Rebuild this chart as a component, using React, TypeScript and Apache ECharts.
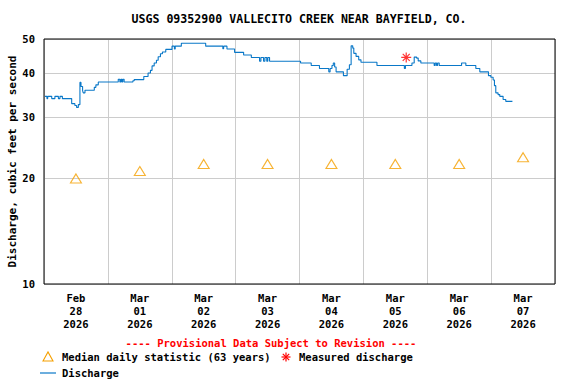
import React, { useEffect, useRef } from 'react';
import * as echarts from 'echarts';

const TITLE = 'USGS 09352900 VALLECITO CREEK NEAR BAYFIELD, CO.';
const Y_NAME = 'Discharge, cubic feet per second';
const PROVISIONAL = '---- Provisional Data Subject to Revision ----';
const LEGEND_MEDIAN = 'Median daily statistic (63 years)';
const LEGEND_MEASURED = 'Measured discharge';
const LEGEND_DISCHARGE = 'Discharge';

const DAY_LABELS = [
  'Feb\n28\n2026',
  'Mar\n01\n2026',
  'Mar\n02\n2026',
  'Mar\n03\n2026',
  'Mar\n04\n2026',
  'Mar\n05\n2026',
  'Mar\n06\n2026',
  'Mar\n07\n2026',
];
const Y_TICKS = [10, 20, 30, 40, 50];
const MEDIAN = [20, 21, 22, 22, 22, 22, 22, 23];

// hours since 2026-02-28 00:00 where the discharge value changes
const HOURS = [
  0.375, 1.1, 1.4, 2.9, 4.1, 5.4, 6.0, 6.9, 10.4, 11.6, 12.25, 12.9, 13.5, 13.9, 14.5, 14.75,
  15.4, 18.9, 19.5, 20.4, 27.9, 28.5, 28.9, 29.3, 29.6, 30.1, 33.4, 33.9, 37.5, 39.1, 40.0,
  40.6, 41.4, 42.25, 42.9, 43.75, 44.5, 45.75, 48.1, 49.0, 49.3, 51.6, 60.75, 67.2, 67.5,
  68.75, 71.6, 75.0, 77.9, 81.0, 81.5, 82.5, 83.0, 83.7, 84.1, 84.75, 96.4, 100.4, 103.5,
  107.0, 107.5, 108.2, 108.7, 109.2, 109.75, 112.5, 113.9, 114.75, 115.4, 116.0, 116.4,
  117.25, 118.25, 119.1, 125.1, 135.4, 135.8, 138.25, 139.1, 140.0, 140.6, 141.6, 146.6,
  147.0, 147.5, 147.9, 148.5, 156.9, 158.5, 162.25, 163.75, 167.0, 167.9, 168.75, 169.25,
  169.75, 170.6, 171.25, 172.5, 173.5, 176.0,
];
const FLOW = [
  34.3, 33.8, 34.3, 33.8, 34.3, 33.8, 34.3, 33.8, 32.7, 32.3, 31.9, 32.5, 37.6, 36.6, 35.6, 35.1,
  35.7, 36.4, 37.0, 37.7, 38.4, 37.7, 38.4, 37.7, 38.4, 37.7, 38.0, 38.3, 39.1, 40.0, 40.7,
  41.9, 42.7, 43.5, 44.5, 45.4, 45.9, 46.7, 47.7, 46.8, 47.7, 48.6, 47.7, 46.9, 47.7,
  46.8, 45.8, 45.0, 44.3, 43.2, 44.3, 43.2, 44.3, 43.2, 44.3, 43.2, 42.7, 42.0, 41.2,
  40.3, 41.2, 42.0, 42.7, 41.6, 40.3, 39.3, 41.0, 42.2, 47.8, 47.1, 45.5,
  44.6, 43.6, 42.9, 42.0, 41.2, 42.0, 42.7, 44.4, 44.1, 43.3, 42.7, 42.0,
  42.7, 42.0, 42.7, 42.0, 42.7, 42.0, 41.2, 40.3, 39.3, 38.9, 38.2, 36.8,
  35.1, 34.7, 34.3, 33.6, 33.2, 33.2,
];
const MEASURED_HOURS = [136.1];
const MEASURED_FLOW = [44.3];

const FONT = '"DejaVu Sans Mono", monospace';
const BLUE = '#0a78c8';
const ORANGE = '#f5a000';
const RED = '#ff0000';

const GRID = { left: 44, top: 39, width: 511, height: 245 };

const STAR_PATH = 'path://M0 5L10 5M5 0L5 10M1.5 1.5L8.5 8.5M8.5 1.5L1.5 8.5';

export default function App() {
  const ref = useRef<HTMLDivElement>(null);
  useEffect(() => {
    if (!ref.current) return;
    const chart = echarts.init(ref.current, null, { renderer: 'svg' });
    const discharge = HOURS.map((h, i) => [h, FLOW[i]]);
    const measured = MEASURED_HOURS.map((h, i) => [h, MEASURED_FLOW[i]]);
    const sc = 286, sy = 357, r = 4.5;
    chart.setOption({
      animation: false,
      backgroundColor: '#fff',
      grid: { ...GRID, containLabel: false, outerBoundsMode: 'none' },
      xAxis: [
        {
          type: 'value',
          min: 0,
          max: 192,
          interval: 24,
          axisLine: { show: false },
          axisTick: { show: false },
          axisLabel: { show: false },
          splitLine: { show: true, lineStyle: { color: '#cccccc', width: 1 } },
        },
        {
          type: 'category',
          position: 'bottom',
          data: DAY_LABELS,
          boundaryGap: true,
          axisLine: { show: false },
          axisTick: { show: false },
          splitLine: { show: false },
          axisLabel: {
            margin: 7,
            interval: 0,
            fontFamily: FONT,
            fontWeight: 'bold',
            fontSize: 10.5,
            lineHeight: 13,
            color: '#000',
          },
        },
      ],
      yAxis: {
        type: 'log',
        logBase: 10,
        min: 10,
        max: 50,
        name: Y_NAME,
        nameLocation: 'middle',
        nameGap: 26,
        nameMoveOverlap: false,
        nameTextStyle: { fontFamily: FONT, fontWeight: 'bold', fontSize: 11, color: '#000' },
        axisLine: { show: false },
        axisTick: { show: false, customValues: Y_TICKS },
        axisLabel: {
          customValues: Y_TICKS,
          margin: 9,
          fontFamily: FONT,
          fontWeight: 'bold',
          fontSize: 10.5,
          color: '#000',
        },
        splitLine: { show: true, lineStyle: { color: '#cccccc', width: 1 } },
      },
      series: [
        {
          type: 'scatter',
          xAxisIndex: 1,
          data: MEDIAN,
          symbol: 'triangle',
          symbolSize: [11, 9],
          itemStyle: { color: 'rgba(0,0,0,0)', borderColor: ORANGE, borderWidth: 1.1 },
          z: 2,
        },
        {
          type: 'line',
          xAxisIndex: 0,
          data: discharge,
          step: 'end',
          showSymbol: false,
          lineStyle: { color: BLUE, width: 1.1 },
          z: 3,
        },
        {
          type: 'scatter',
          xAxisIndex: 0,
          data: measured,
          symbol: STAR_PATH,
          symbolSize: 10,
          itemStyle: { color: RED, borderColor: RED, borderWidth: 1.2 },
          z: 4,
        },
      ],
      graphic: [
        {
          type: 'rect',
          shape: { x: GRID.left, y: GRID.top, width: GRID.width, height: GRID.height },
          style: { fill: 'none', stroke: '#000', lineWidth: 1 },
          z: 100,
          silent: true,
        },
        {
          type: 'text',
          x: 299,
          y: 19,
          style: {
            text: TITLE,
            font: `bold 11.6px ${FONT}`,
            fill: '#000',
            align: 'center',
            verticalAlign: 'middle',
          },
        },
        {
          type: 'text',
          x: 271,
          y: 343,
          style: {
            text: PROVISIONAL,
            font: `bold 10.5px ${FONT}`,
            fill: RED,
            align: 'center',
            verticalAlign: 'middle',
          },
        },
        {
          type: 'polygon',
          shape: { points: [[43, 361], [48, 352], [53, 361]] },
          style: { fill: 'none', stroke: ORANGE, lineWidth: 1.1 },
        },
        {
          type: 'text',
          x: 62,
          y: 357,
          style: {
            text: LEGEND_MEDIAN,
            font: `bold 10.5px ${FONT}`,
            fill: '#000',
            align: 'left',
            verticalAlign: 'middle',
          },
        },
        { type: 'line', shape: { x1: sc - r, y1: sy, x2: sc + r, y2: sy }, style: { stroke: RED, lineWidth: 1.2 } },
        { type: 'line', shape: { x1: sc, y1: sy - r, x2: sc, y2: sy + r }, style: { stroke: RED, lineWidth: 1.2 } },
        { type: 'line', shape: { x1: sc - 3.2, y1: sy - 3.2, x2: sc + 3.2, y2: sy + 3.2 }, style: { stroke: RED, lineWidth: 1.2 } },
        { type: 'line', shape: { x1: sc + 3.2, y1: sy - 3.2, x2: sc - 3.2, y2: sy + 3.2 }, style: { stroke: RED, lineWidth: 1.2 } },
        {
          type: 'text',
          x: 299,
          y: 357,
          style: {
            text: LEGEND_MEASURED,
            font: `bold 10.5px ${FONT}`,
            fill: '#000',
            align: 'left',
            verticalAlign: 'middle',
          },
        },
        { type: 'line', shape: { x1: 40, y1: 373, x2: 56, y2: 373 }, style: { stroke: BLUE, lineWidth: 1.2 } },
        {
          type: 'text',
          x: 62,
          y: 373,
          style: {
            text: LEGEND_DISCHARGE,
            font: `bold 10.5px ${FONT}`,
            fill: '#000',
            align: 'left',
            verticalAlign: 'middle',
          },
        },
      ],
    });
    return () => chart.dispose();
  }, []);
  return (
    <div
      ref={ref}
      style={{ position: 'absolute', left: 0, top: 0, width: 576, height: 384, background: '#fff' }}
    />
  );
}
